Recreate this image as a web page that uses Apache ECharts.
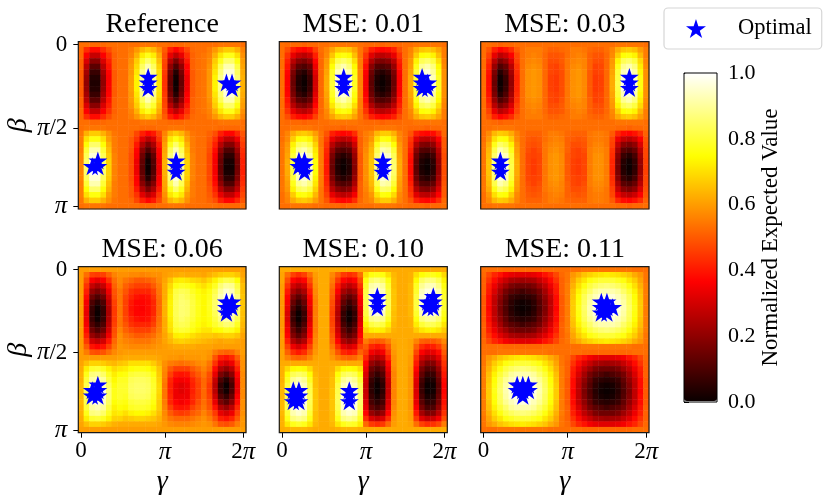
<!DOCTYPE html>
<html><head><meta charset="utf-8">
<style>html,body{margin:0;padding:0;background:#fff}#c{width:831px;height:499px}</style>
<script src="https://cdn.jsdelivr.net/npm/echarts@6/dist/echarts.min.js"></script>
</head><body><div id="c"></div>
<script>
// Cell values in percent of the normalized expected value.
const titles = ['Reference','MSE: 0.01','MSE: 0.03','MSE: 0.06','MSE: 0.10','MSE: 0.11'];
const xTickIndex = [0,15,29];
const xTickText = ['0','{i|π}','2{i|π}'];
const yTickIndex = [0,15,29];
const yTickText = ['0','{i|π}/2','{i|π}'];
const colorbarTicks = [0,0.2,0.4,0.6,0.8,1];

const mirroredOrder = [0,1,2,3,4,5,6,7,6,5,4,3,2,1,0];

const referenceUpper = [
[53,53,52,52,52,53,53,53,53,53,53,54,54,54,53,53,52,52,52,53,53,53,53,53,53,54,54,54,54,53],
[52,43,38,38,43,48,52,53,53,55,59,64,67,64,58,50,41,37,41,47,52,53,53,55,59,64,67,67,63,56],
[52,36,28,28,36,44,51,53,53,56,63,72,77,72,62,48,33,27,33,43,51,53,54,56,63,71,77,77,70,58],
[51,31,19,19,31,41,51,53,53,58,67,79,85,79,65,47,26,17,26,40,51,53,54,57,67,77,85,85,76,60],
[51,26,12,12,26,39,51,53,53,59,69,84,92,84,68,46,20,10,20,37,51,53,54,58,69,83,92,92,81,61],
[50,23,7,7,23,37,50,53,53,59,71,88,96,88,70,45,16,4,16,36,50,53,54,59,71,86,96,96,84,62],
[50,21,4,4,21,36,50,53,53,60,73,90,99,90,71,44,14,1,14,34,50,53,54,59,73,88,99,99,86,63],
[50,20,3,3,20,36,50,53,53,60,73,91,100,91,71,44,13,0,13,34,50,53,54,59,73,89,100,100,87,63]];
const referenceLower = [
[53,54,54,54,54,53,53,53,53,53,53,52,52,52,53,53,54,54,54,53,53,53,53,53,53,52,52,52,52,53],
[54,63,67,67,63,58,54,53,53,52,47,41,37,40,47,56,64,67,64,58,54,53,53,51,48,41,37,37,42,49],
[55,70,76,76,70,60,55,53,53,50,44,32,26,31,44,58,71,76,71,60,55,53,53,50,44,33,27,27,34,47],
[55,75,85,85,75,63,55,53,53,50,40,25,17,24,40,60,77,85,77,63,55,53,53,49,41,26,18,18,27,45],
[55,80,92,92,80,65,55,53,53,49,37,19,10,18,37,61,83,92,83,65,55,53,53,48,38,20,10,10,22,43],
[56,83,96,96,83,67,56,53,53,48,36,15,4,13,36,62,86,96,86,67,56,53,53,47,36,16,5,5,18,42],
[56,85,99,99,85,68,56,53,53,48,34,13,1,11,34,63,88,99,88,68,56,53,53,47,35,14,2,2,16,41],
[56,86,100,100,86,68,56,53,53,48,34,12,0,10,34,63,89,100,89,68,56,53,53,47,35,13,1,1,15,41]];

const mse01Upper = [
[53,52,52,52,51,52,52,53,53,54,54,54,54,54,53,52,52,52,51,52,52,52,53,53,54,54,54,54,54,53],
[53,48,41,38,37,39,46,53,56,61,66,67,66,61,54,48,41,38,37,38,41,48,53,56,62,66,67,65,61,55],
[53,44,33,28,26,29,41,52,57,66,74,76,74,65,54,44,32,27,26,28,33,44,53,57,67,75,76,73,65,55],
[53,41,26,19,17,21,37,52,59,71,82,85,82,70,55,41,25,18,17,19,26,41,53,59,73,83,85,81,70,56],
[53,39,21,12,10,14,34,52,60,75,88,92,87,74,55,38,19,11,10,12,21,39,53,60,77,89,92,87,74,57],
[53,37,17,7,4,10,32,52,61,78,93,96,92,76,56,36,15,6,4,7,17,37,53,61,80,93,96,90,76,58],
[53,36,15,4,1,7,30,52,62,79,95,99,94,78,56,35,13,3,1,4,15,36,53,62,81,96,99,93,78,58],
[53,36,14,3,0,6,30,52,62,80,96,100,95,78,56,35,12,2,0,3,14,36,53,62,82,97,100,94,78,58]];
const mse01Lower = [
[53,53,54,54,54,54,53,53,52,52,52,51,52,52,53,53,53,54,54,54,54,53,53,52,52,52,51,52,52,53],
[53,56,62,66,67,65,60,54,49,41,38,37,38,43,52,55,57,64,67,67,63,56,53,49,41,38,37,38,43,52],
[53,57,67,75,76,73,64,54,46,33,28,26,28,35,51,55,59,70,76,75,69,57,53,45,32,27,26,28,36,50],
[54,59,73,83,85,81,68,54,44,26,19,17,19,29,51,56,62,77,85,84,75,59,53,43,25,18,17,20,31,50],
[54,60,77,89,92,87,71,55,42,21,12,10,12,24,51,57,64,82,92,90,80,60,53,41,19,11,10,13,26,49],
[54,61,80,93,96,91,73,55,41,17,7,4,7,21,50,58,65,85,96,94,83,61,53,39,15,6,4,8,23,48],
[54,62,81,96,99,93,75,55,40,15,4,1,4,19,50,58,66,87,99,97,85,62,53,38,13,3,1,5,21,48],
[54,62,82,97,100,94,75,55,40,14,3,0,3,18,50,58,66,88,100,98,86,62,53,38,12,2,0,4,20,48]];

const mse03Upper = [
[53,53,52,51,52,52,53,53,53,53,53,53,53,53,53,53,53,53,53,53,53,53,53,53,54,54,54,54,54,53],
[53,49,41,37,39,43,50,53,55,55,55,53,51,51,52,53,55,55,54,52,51,51,53,56,62,66,67,65,60,55],
[53,46,33,26,29,36,47,53,55,56,55,52,49,49,50,53,55,56,55,51,49,49,52,57,67,75,76,73,64,55],
[53,43,26,17,21,31,46,53,56,57,56,52,48,48,50,54,56,57,56,51,48,48,52,59,73,83,85,81,69,56],
[53,41,21,10,14,26,44,53,57,58,57,52,47,46,49,54,57,58,56,51,46,47,52,60,77,89,92,87,72,57],
[53,39,17,4,10,23,43,53,58,59,58,52,47,46,48,54,58,59,57,50,46,47,52,61,80,93,96,91,74,58],
[53,38,15,1,7,21,42,53,58,59,58,52,46,45,48,54,58,59,57,50,45,46,52,62,81,96,99,93,76,58],
[53,38,14,0,6,20,42,53,58,59,58,52,46,45,48,54,58,59,57,50,45,46,52,62,82,97,100,94,76,58]];
const mse03Lower = [
[53,53,54,54,54,54,53,53,53,53,53,53,53,53,53,53,53,53,53,53,53,53,53,53,52,52,51,52,52,53],
[53,57,64,67,66,62,56,53,51,51,51,53,55,55,54,52,51,51,51,54,55,55,54,50,42,38,37,39,43,51],
[53,59,70,76,75,67,57,53,50,49,50,53,55,56,55,51,50,49,50,54,55,55,54,47,34,28,26,29,36,49],
[54,62,77,85,82,73,59,53,49,48,49,54,56,57,56,51,48,48,49,54,56,56,54,46,28,19,17,20,31,48],
[54,64,82,92,88,77,60,53,48,46,48,54,57,58,56,51,47,46,48,55,57,57,55,44,23,12,10,14,26,47],
[54,65,85,96,93,80,61,53,47,46,47,54,58,59,57,50,47,46,47,55,58,58,55,43,19,7,4,9,23,47],
[54,66,87,99,95,81,62,53,47,45,47,54,58,59,57,50,46,45,47,55,58,58,55,42,17,4,1,6,21,46],
[54,66,88,100,96,82,62,53,47,45,47,54,58,59,57,50,46,45,47,55,58,58,55,42,16,3,0,5,20,46]];

const mse06Rows = [
[60,60,60,60,60,60,60,60,60,60,60,60,60,60,60,60,60,60,60,60,60,60,60,60,60,60,60,60,60,60],
[60,53,46,45,46,51,56,58,58,57,57,56,57,58,58,60,61,62,63,62,62,62,61,63,65,67,68,68,66,61],
[60,48,36,33,36,44,53,57,54,52,50,50,51,53,57,61,66,71,72,71,69,68,66,69,73,79,82,81,75,63],
[60,44,28,24,28,38,51,56,51,48,46,46,46,50,55,62,69,76,78,77,75,72,70,73,78,86,90,89,81,65],
[60,41,21,17,21,34,49,54,49,44,42,42,42,46,54,62,71,81,83,82,78,75,73,76,82,90,95,93,84,65],
[60,38,15,10,15,30,48,54,47,42,39,38,39,44,53,62,72,82,85,83,80,76,74,77,84,92,98,96,87,66],
[60,35,10,5,10,27,46,54,46,40,37,37,38,42,52,63,73,83,86,85,81,77,74,78,85,94,100,98,88,66],
[60,34,7,1,7,25,45,54,46,39,37,36,38,42,52,63,73,83,86,85,81,77,74,78,85,93,99,97,87,66],
[60,33,6,0,6,24,45,54,46,40,37,37,38,42,52,63,73,83,86,85,81,77,74,77,83,91,96,94,85,65],
[60,34,7,1,7,25,45,54,47,42,39,38,39,44,53,62,72,82,85,83,80,76,74,76,81,87,91,90,82,65],
[60,35,10,5,10,27,46,54,49,44,42,42,42,46,54,62,71,81,83,82,78,75,73,75,79,83,86,85,78,64],
[60,38,15,10,15,30,48,56,51,48,46,46,46,50,55,62,70,78,80,79,76,73,71,71,74,75,78,77,73,63],
[60,41,21,17,21,34,49,58,54,52,50,50,51,53,57,61,66,72,73,72,70,68,67,67,66,67,68,68,66,61],
[60,45,30,27,30,40,52,58,56,55,54,54,54,56,58,61,64,67,68,67,66,65,64,63,62,61,62,62,61,60],
[60,50,39,37,39,46,54,59,58,57,57,57,57,58,59,60,61,62,62,62,62,61,61,61,60,60,60,60,60,60],
[60,55,49,48,49,53,57,59,60,60,60,60,60,60,60,60,60,60,60,60,60,60,60,59,55,52,51,52,56,60],
[60,60,60,60,60,60,60,61,62,62,62,62,62,62,61,60,59,59,58,59,59,59,60,58,49,41,39,42,50,59],
[61,65,68,68,67,65,64,66,67,70,70,70,70,67,63,58,55,54,53,54,55,57,58,54,44,33,30,34,45,58],
[62,72,79,80,78,73,69,71,72,75,76,76,75,72,66,57,50,46,46,46,50,53,56,52,38,25,21,26,41,58],
[63,77,87,88,85,78,72,75,76,80,81,81,80,76,67,56,46,40,39,40,46,50,54,48,33,17,12,19,37,57],
[63,80,91,93,90,81,74,78,78,83,84,84,83,78,68,55,42,36,35,36,42,47,52,47,28,10,4,12,34,57],
[64,82,95,97,93,84,76,79,79,84,85,85,84,79,69,54,41,34,32,34,41,46,52,45,26,6,0,9,33,57],
[64,84,98,100,96,86,77,79,79,84,85,85,84,79,69,54,41,34,32,34,41,46,52,45,26,7,1,10,33,57],
[64,84,98,100,96,86,77,79,78,83,84,84,83,78,68,54,42,34,34,34,42,46,52,46,29,11,6,14,36,57],
[64,82,95,97,93,84,75,77,76,80,81,81,80,76,67,55,42,37,35,37,42,48,53,48,33,17,12,19,38,58],
[63,80,91,93,90,81,73,75,74,78,79,79,78,74,67,56,46,40,39,40,46,50,54,49,39,25,21,27,42,58],
[63,77,87,88,85,78,71,72,70,73,74,74,73,70,65,57,50,46,45,46,50,52,56,52,45,33,30,34,46,58],
[62,72,79,80,78,73,68,68,66,67,68,68,67,66,63,58,54,52,52,52,54,56,58,55,49,41,39,42,50,59],
[61,65,68,68,67,65,63,62,62,62,62,62,62,62,61,59,57,56,56,56,57,58,59,58,54,49,48,50,55,59],
[60,60,60,60,60,60,60,60,60,60,60,60,60,60,60,60,60,60,60,60,60,60,60,60,60,60,60,60,60,60]];

const mse10Rows = [
[62,62,62,62,62,62,62,62,62,62,62,62,62,62,62,62,62,62,62,62,62,62,62,62,62,62,62,62,62,62],
[61,53,46,43,46,53,60,62,62,57,51,45,43,45,53,70,76,77,76,70,64,62,62,63,70,75,77,77,75,69],
[61,48,37,34,37,48,59,62,62,55,45,37,34,37,48,76,85,87,84,76,65,62,62,63,74,84,87,87,83,73],
[60,44,30,26,30,44,58,62,62,53,40,30,26,30,44,79,91,93,90,79,65,62,62,64,78,89,93,93,88,76],
[60,40,24,19,24,40,57,62,62,51,36,23,19,23,40,81,94,97,93,81,66,62,62,64,79,93,97,97,92,78],
[60,37,18,12,18,37,56,62,62,50,32,17,12,17,37,82,96,99,96,82,66,62,62,64,81,95,99,99,94,79],
[59,35,14,7,14,35,55,62,62,48,29,13,7,13,35,83,97,100,96,83,66,62,62,64,81,95,100,100,94,79],
[59,33,10,3,10,33,55,62,62,47,27,9,3,9,33,82,96,99,96,82,66,62,62,64,81,95,99,99,94,79],
[59,31,7,0,7,31,55,62,62,46,25,6,0,6,31,81,93,96,93,81,65,62,62,64,79,92,96,96,91,77],
[59,31,7,0,7,31,55,62,62,46,25,6,0,6,31,78,88,90,88,78,65,62,62,63,76,87,90,90,86,75],
[59,33,10,3,10,33,55,62,62,47,27,9,3,9,33,73,81,83,81,73,64,62,62,63,72,80,83,83,80,71],
[59,35,14,7,14,35,55,62,62,48,29,13,7,13,35,68,72,73,72,68,63,62,62,62,67,71,73,73,71,67],
[60,37,18,12,18,37,56,62,62,50,32,17,12,17,37,62,62,62,62,62,62,62,62,62,62,62,62,62,62,62],
[60,41,25,20,25,41,57,62,62,51,37,24,20,24,41,55,51,50,51,55,61,62,62,61,56,51,50,50,52,57],
[60,46,34,30,34,46,58,62,62,54,43,33,30,33,46,50,42,40,42,50,60,62,62,61,51,43,40,41,45,53],
[61,51,43,40,43,51,59,62,62,57,49,42,40,42,51,46,35,32,35,46,59,62,62,61,47,36,32,33,38,50],
[61,56,52,51,52,56,61,62,62,59,55,52,51,52,56,42,28,25,28,42,58,62,62,60,43,29,25,26,32,47],
[62,62,62,62,62,62,62,62,62,62,62,62,62,62,62,37,21,17,21,37,58,62,62,60,40,23,17,18,26,44],
[63,69,74,75,74,69,63,62,62,63,69,74,75,74,70,34,15,11,15,34,57,62,62,59,37,17,11,12,21,42],
[63,75,83,85,83,75,64,62,62,64,75,83,85,83,76,31,11,6,11,31,56,62,62,59,34,13,6,7,17,40],
[63,78,89,92,89,78,65,62,62,65,78,89,92,89,80,29,7,2,7,29,56,62,62,59,32,9,2,3,14,38],
[64,81,93,96,93,81,65,62,62,65,81,93,96,93,83,28,5,0,5,28,56,62,62,59,31,7,0,1,12,37],
[64,82,95,99,95,82,66,62,62,66,82,95,99,96,84,28,5,0,5,28,56,62,62,59,31,7,0,1,12,37],
[64,83,96,100,96,83,66,62,62,66,83,96,100,97,85,29,7,2,7,29,56,62,62,59,32,9,2,3,14,38],
[64,83,96,100,96,83,66,62,62,66,83,96,100,97,85,31,9,5,9,31,56,62,62,59,33,12,5,6,16,39],
[64,82,95,99,95,82,66,62,62,66,82,95,99,96,84,33,13,9,13,33,57,62,62,59,36,16,9,10,20,41],
[64,80,92,95,92,80,65,62,62,65,80,92,95,93,82,37,21,17,21,37,58,62,62,60,40,23,17,18,26,44],
[63,77,87,89,87,77,65,62,62,65,77,87,89,87,78,43,31,28,31,43,59,62,62,60,45,32,28,29,35,48],
[63,71,77,79,77,71,64,62,62,64,71,77,79,78,72,52,45,43,45,52,60,62,62,61,53,46,43,44,47,55],
[62,63,64,64,64,63,62,62,62,62,63,64,64,64,63,62,62,62,62,62,62,62,62,62,62,62,62,62,62,62]];

const mse11Upper = [
[53,53,53,53,52,52,52,52,52,52,52,53,53,53,53,53,53,53,54,54,54,54,54,54,54,54,54,53,53,53],
[52,47,42,39,35,33,32,32,32,33,35,39,42,47,52,54,59,62,66,68,70,71,72,71,70,68,66,62,59,54],
[51,44,38,32,28,24,23,22,23,24,28,32,38,44,51,54,61,67,71,76,78,80,80,80,78,76,71,67,61,54],
[51,41,34,27,22,17,15,15,15,17,22,27,34,41,51,55,63,70,76,81,84,86,87,86,84,81,76,70,63,55],
[51,40,31,23,16,12,10,8,10,12,16,23,31,40,51,55,65,73,80,85,90,92,92,92,90,85,80,73,65,55],
[50,38,28,20,13,7,5,4,5,7,13,20,28,38,50,55,66,75,83,89,93,96,97,96,93,89,83,75,66,55],
[50,38,27,18,11,5,2,1,2,5,11,18,27,38,50,55,67,76,84,91,96,98,99,98,96,91,84,76,67,55],
[50,37,27,17,10,4,1,0,1,4,10,17,27,37,50,55,67,77,85,92,97,99,100,99,97,92,85,77,67,55]];
const mse11Lower = [
[53,53,53,54,54,54,54,54,54,54,54,54,53,53,53,53,53,53,52,52,52,52,52,52,52,52,52,53,53,53],
[54,59,62,66,68,70,71,72,71,70,68,66,62,59,54,52,47,42,39,35,33,32,32,32,33,35,39,42,47,52],
[54,61,67,71,76,78,80,80,80,78,76,71,67,61,54,51,44,38,32,28,24,23,22,23,24,28,32,38,44,51],
[55,63,70,76,81,84,86,87,86,84,81,76,70,63,55,51,41,34,27,22,17,15,15,15,17,22,27,34,41,51],
[55,65,73,80,85,90,92,92,92,90,85,80,73,65,55,51,40,31,23,16,12,10,8,10,12,16,23,31,40,51],
[55,66,75,83,89,93,96,97,96,93,89,83,75,66,55,50,38,28,20,13,7,5,4,5,7,13,20,28,38,50],
[55,67,76,84,91,96,98,99,98,96,91,84,76,67,55,50,38,27,18,11,5,2,1,2,5,11,18,27,38,50],
[55,67,77,85,92,97,99,100,99,97,92,85,77,67,55,50,37,27,17,10,4,1,0,1,4,10,17,27,37,50]];

// Optimal points as [gamma index, beta index]
const optimalReference = [[12,6],[12,7],[12,8],[26,7],[27,7],[27,8],[2,22],[3,22],[3,21],[17,21],[17,22],[17,23]];
const optimalMse01 = [[11,6],[11,7],[11,8],[25,6],[25,7],[26,7],[25,8],[26,8],[3,21],[4,21],[3,22],[4,22],[4,23],[18,21],[18,22],[18,23]];
const optimalMse03 = [[26,6],[26,7],[26,8],[3,21],[3,22],[3,23]];
const optimalMse06 = [[26,6],[27,6],[26,7],[27,7],[26,8],[3,21],[2,22],[3,22],[2,23],[3,23]];
const optimalMse10 = [[2,22],[3,22],[2,23],[3,23],[2,24],[3,24],[12,22],[12,23],[12,24],[17,5],[17,6],[17,7],[27,5],[26,6],[27,6],[26,7],[27,7]];
const optimalMse11 = [[21,6],[22,6],[21,7],[22,7],[23,7],[21,8],[22,8],[6,21],[7,21],[8,21],[6,22],[7,22],[8,22],[7,23]];

const mirrored = (up, low) => mirroredOrder.map(k => up[k]).concat(mirroredOrder.map(k => low[k]));
const panels = [
  mirrored(referenceUpper, referenceLower),
  mirrored(mse01Upper, mse01Lower),
  mirrored(mse03Upper, mse03Lower),
  mse06Rows,
  mse10Rows,
  mirrored(mse11Upper, mse11Lower)
];
const optimal = [optimalReference, optimalMse01, optimalMse03, optimalMse06, optimalMse10, optimalMse11];

const SERIF = '"Liberation Serif","Times New Roman",serif';
const STAR = 'path://M0,-100L22.45,-30.9L95.1,-30.9L36.3,11.8L58.8,80.9L0,38.2L-58.8,80.9L-36.3,11.8L-95.1,-30.9L-22.45,-30.9Z';
const cats = Array.from({length:30},(_,i)=>String(i));
const colsX = [[78.3,167.7],[279.3,168],[480.7,168.3]];
const rowsY = [[41.7,167.3],[266.7,166]];
const rich = {i:{fontStyle:'italic',fontFamily:SERIF,fontSize:25,color:'#000'}};

function hot(v){
  const r=Math.min(1,0.0416+v*(1-0.0416)/0.365), g=Math.max(0,Math.min(1,(v-0.365)/0.381)), b=Math.max(0,(v-0.746)/0.254);
  return 'rgb('+Math.round(r*255)+','+Math.round(g*255)+','+Math.round(b*255)+')';
}
const hotStops = Array.from({length:101},(_,i)=>hot(i/100));

const grids=[],xAxes=[],yAxes=[],series=[],titleOpt=[];
panels.forEach((rows,p)=>{
  const c=p%3,r=Math.floor(p/3);
  grids.push({left:colsX[c][0],width:colsX[c][1],top:rowsY[r][0],height:rowsY[r][1],show:true,z:10,
    borderColor:'#1a1a1a',borderWidth:1.2,backgroundColor:'transparent'});
  xAxes.push({type:'category',gridIndex:p,data:cats,position:'bottom',
    name:r===1?'γ':'',nameLocation:'middle',nameGap:35,
    nameTextStyle:{fontFamily:SERIF,fontStyle:'italic',fontSize:28,color:'#000'},
    axisLine:{show:false},splitLine:{show:false},
    axisTick:{show:r===1,alignWithLabel:true,length:5,interval:i=>xTickIndex.includes(i),lineStyle:{color:'#000',width:1}},
    axisLabel:{show:r===1,interval:i=>xTickIndex.includes(i),margin:7,fontFamily:SERIF,fontSize:23,color:'#000',rich,
      formatter:(v,i)=>xTickText[xTickIndex.indexOf(Number(v))]||''}});
  yAxes.push({type:'category',gridIndex:p,data:cats,inverse:true,
    name:c===0?'β':'',nameLocation:'middle',nameGap:38,nameRotate:90,
    nameTextStyle:{fontFamily:SERIF,fontStyle:'italic',fontSize:28,color:'#000'},
    axisLine:{show:false},splitLine:{show:false},
    axisTick:{show:c===0,alignWithLabel:true,length:5,interval:i=>yTickIndex.includes(i),lineStyle:{color:'#000',width:1}},
    axisLabel:{show:c===0,interval:i=>yTickIndex.includes(i),margin:11,fontFamily:SERIF,fontSize:23,color:'#000',rich,
      formatter:(v,i)=>yTickText[yTickIndex.indexOf(Number(v))]||''}});
  const cells=[];
  rows.forEach((row,j)=>row.forEach((v,i)=>cells.push([i,j,v/100])));
  series.push({type:'heatmap',xAxisIndex:p,yAxisIndex:p,data:cells,progressive:0,silent:true,
    itemStyle:{borderWidth:0},emphasis:{disabled:true}});
  titleOpt.push({text:titles[p],left:colsX[c][0]+colsX[c][1]/2,top:rowsY[r][0]-31,textAlign:'center',
    textStyle:{fontFamily:SERIF,fontSize:28,fontWeight:'normal',color:'#000'},padding:0});
});
panels.forEach((rows,p)=>{
  series.push({type:'scatter',name:'Optimal',xAxisIndex:p,yAxisIndex:p,data:optimal[p],symbol:STAR,symbolSize:[19,18],
    symbolOffset:[0,-1],itemStyle:{color:'#0000ff',opacity:1},z:5,silent:true,clip:true});
});
// colour bar frame, ticks and label
grids.push({left:684,top:73,width:33,height:329,show:true,z:10,borderColor:'#000',borderWidth:1,backgroundColor:'transparent'});
xAxes.push({type:'value',gridIndex:6,show:false,min:0,max:1});
yAxes.push({type:'value',gridIndex:6,min:0,max:1,interval:0.2,position:'right',
  name:'Normalized Expected Value',nameLocation:'middle',nameGap:42,nameRotate:90,
  nameTextStyle:{fontFamily:SERIF,fontSize:23,color:'#000'},
  axisLine:{show:false},splitLine:{show:false},
  axisTick:{show:true,length:5,lineStyle:{color:'#000',width:1}},
  axisLabel:{margin:11,fontFamily:SERIF,fontSize:22,color:'#000',formatter:v=>colorbarTicks.includes(+v.toFixed(1))?v.toFixed(1):''}});

const chart=echarts.init(document.getElementById('c'),null,{renderer:'canvas'});
chart.setOption({
  animation:false,backgroundColor:'#fff',tooltip:{show:false},
  title:titleOpt,grid:grids,xAxis:xAxes,yAxis:yAxes,series,
  visualMap:{type:'continuous',min:0,max:1,seriesIndex:[0,1,2,3,4,5],calculable:false,hoverLink:false,
    left:684,top:73,itemWidth:33,itemHeight:328,padding:0,text:null,
    inRange:{color:hotStops},textStyle:{color:'transparent',fontSize:1}},
  legend:{show:true,data:[{name:'Optimal',icon:STAR}],left:664,top:8,orient:'horizontal',
    itemWidth:20,itemHeight:19,padding:[9,10,9,22],selectedMode:false,
    backgroundColor:'#fff',borderColor:'#d6d6d6',borderWidth:1.2,borderRadius:4,
    textStyle:{fontFamily:SERIF,fontSize:22.5,color:'#000',padding:[0,0,0,27]}}
});
</script></body></html>
